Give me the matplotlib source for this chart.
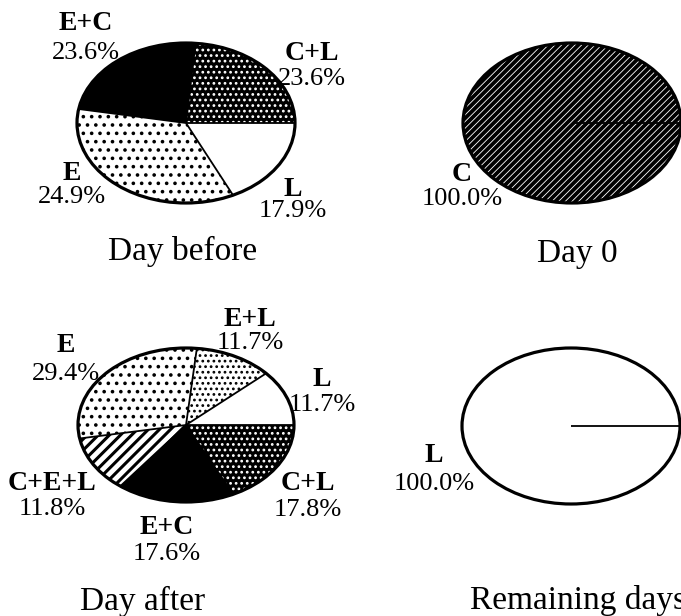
import matplotlib
matplotlib.use("Agg")
import numpy as np
import matplotlib.pyplot as plt
from matplotlib.patches import Ellipse

plt.rcParams['font.family'] = ['Liberation Serif', 'DejaVu Serif']
plt.rcParams['hatch.linewidth'] = 1.3

W, H = 681, 616

# --- data (percent shares, counter-clockwise from 3 o'clock) ---
before_groups = ['C+L', 'E+C', 'E', 'L']
before_values = [23.6, 23.6, 34.9, 17.9]      # slice sizes as drawn in the picture
before_text = ['23.6%', '23.6%', '24.9%', '17.9%']  # printed labels (E reads 24.9%)

day0_groups = ['C']
day0_values = [100.0]

after_groups = ['L', 'E+L', 'E', 'C+E+L', 'E+C', 'C+L']
after_values = [11.7, 11.7, 29.4, 11.8, 17.6, 17.8]

remain_groups = ['L']
remain_values = [100.0]

titles = ['Day before', 'Day 0', 'Day after', 'Remaining days']

# fill style per group: (face, hatch, hatch colour, hatch width)
styles = {
    'C+L': ('black', '...', 'white', 1.2),
    'E+C': ('black', '', 'black', 1.0),
    'E': ('white', '..', 'black', 1.4),
    'L': ('white', '', 'black', 1.0),
    'E+L': ('white', '...', 'black', 1.2),
    'C+E+L': ('white', '///', 'black', 2.2),
    'C': ('black', '/////', 'white', 0.6),
}


def px(x, y):
    return x / W, 1 - y / H


def draw_pie(cx, cy, rx, ry, groups, values):
    ax = fig.add_axes([(cx - rx) / W, 1 - (cy + ry) / H, 2 * rx / W, 2 * ry / H])
    wedges, _ = ax.pie(values, startangle=0, counterclock=True,
                       colors=[styles[g][0] for g in groups],
                       wedgeprops=dict(linewidth=0))
    for w, g in zip(wedges, groups):
        face, hatch, hc, hlw = styles[g]
        w.set_hatch(hatch)
        w.set_edgecolor(hc)
        w.set_linewidth(0)
        if hasattr(w, 'set_hatch_linewidth'):
            w.set_hatch_linewidth(hlw)
    # slice boundaries
    for w in wedges:
        a = np.deg2rad(w.theta1)
        ax.plot([0, np.cos(a)], [0, np.sin(a)], color='black', lw=1.3,
                solid_capstyle='butt')
    ax.add_patch(Ellipse((0, 0), 2, 2, fill=False, edgecolor='black',
                         linewidth=2.3, clip_on=False))
    ax.set_aspect('auto')
    ax.set_xlim(-1, 1)
    ax.set_ylim(-1, 1)
    ax.axis('off')
    return ax


def label(x, y1, y2, name, pct):
    fig.text(*px(x, y1), name, ha='center', va='center', fontsize=20,
             fontweight='bold')
    fig.text(*px(x, y2), pct, ha='center', va='center', fontsize=19)


fig = plt.figure(figsize=(W / 100, H / 100), dpi=100)
fig.patch.set_facecolor('white')

draw_pie(186, 123, 109, 80, before_groups, before_values)
draw_pie(572, 123, 109, 80, day0_groups, day0_values)
draw_pie(186, 425, 108, 77, after_groups, after_values)
draw_pie(571, 426, 109, 78, remain_groups, remain_values)

# label positions in pixels (x, name y, percent y)
before_pos = [(312, 53, 79), (86, 24, 53), (72, 173, 197), (293, 189, 211)]
for (x, y1, y2), g, t in zip(before_pos, before_groups, before_text):
    label(x, y1, y2, g, t)

label(462, 174, 199, day0_groups[0], f'{day0_values[0]:.1f}%')

after_pos = [(322, 380, 405), (250, 319, 343), (66, 345, 374),
             (52, 484, 509), (167, 528, 554), (308, 483, 510)]
for (x, y1, y2), g, v in zip(after_pos, after_groups, after_values):
    label(x, y1, y2, g, f'{v:.1f}%')

label(434, 456, 484, remain_groups[0], f'{remain_values[0]:.1f}%')

title_pos = [(183, 251), (577, 254), (143, 601), (578, 601)]
for (x, y), t in zip(title_pos, titles):
    fig.text(*px(x, y), t, ha='center', va='center', fontsize=24)

fig.savefig('out.png', dpi=100)
